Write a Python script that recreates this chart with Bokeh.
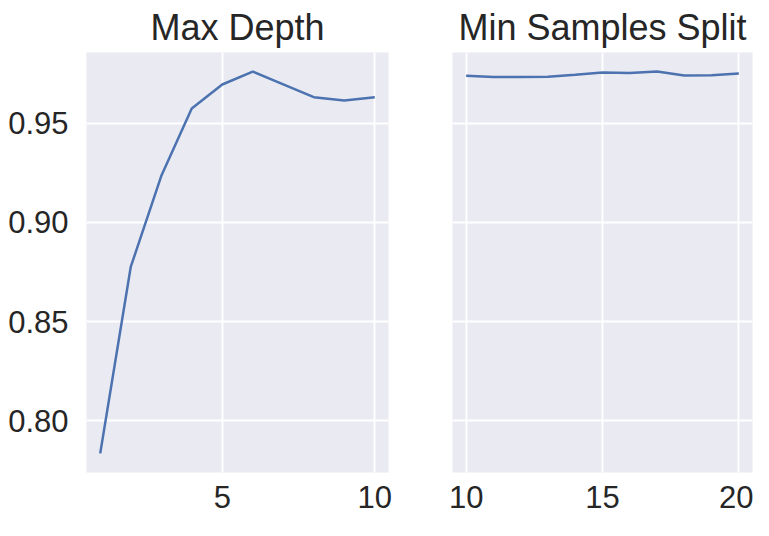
from bokeh.plotting import figure
from bokeh.layouts import row
from bokeh.models import Range1d, FixedTicker
from bokeh.embed import file_html
from bokeh.resources import INLINE

# data
max_depth = [1, 2, 3, 4, 5, 6, 7, 8, 9, 10]
max_depth_score = [0.7836, 0.8775, 0.9233, 0.9573, 0.9694, 0.9759, 0.9695, 0.9630, 0.9613, 0.9630]
min_split = [10, 11, 12, 13, 14, 15, 16, 17, 18, 19, 20]
min_split_score = [0.9738, 0.9732, 0.9732, 0.9733, 0.9743, 0.9754, 0.9752, 0.9759, 0.9739, 0.9740, 0.9749]
y_ticks = [0.80, 0.85, 0.90, 0.95]
x_ticks_left = [5, 10]
x_ticks_right = [10, 15, 20]
titles = ["Max Depth", "Min Samples Split"]

BG = "#EAEAF2"
LINE = "#4C72B0"
TXT = "#262626"
FONT = "Liberation Sans"

def pad(vals, frac=0.05):
    lo, hi = min(vals), max(vals)
    d = (hi - lo) * frac
    return lo - d, hi + d

ylo, yhi = pad(max_depth_score + min_split_score)
yr = Range1d(ylo, yhi)

def make(title, xs, ys, xticks, width, bl, br, show_y):
    xlo, xhi = pad(xs)
    p = figure(width=width, height=520, x_range=Range1d(xlo, xhi), y_range=yr,
               output_backend="svg", toolbar_location=None, title=title,
               min_border_left=bl, min_border_right=br, min_border_top=46,
               min_border_bottom=48)
    p.background_fill_color = BG
    p.border_fill_color = "white"
    p.outline_line_color = None
    p.title.text_font = FONT
    p.title.text_font_size = "36px"
    p.title.text_font_style = "normal"
    p.title.text_color = TXT
    p.title.align = "center"
    p.title.standoff = 9
    for ax in (p.xaxis[0], p.yaxis[0]):
        ax.axis_line_color = None
        ax.major_tick_line_color = None
        ax.minor_tick_line_color = None
        ax.major_tick_out = 0
        ax.major_tick_in = 0
        ax.major_label_text_font = FONT
        ax.major_label_text_font_size = "31px"
        ax.major_label_text_color = TXT
    p.xaxis[0].ticker = FixedTicker(ticks=xticks)
    p.yaxis[0].ticker = FixedTicker(ticks=y_ticks)
    p.yaxis[0].major_label_overrides = {t: f"{t:.2f}" for t in y_ticks}
    p.xaxis[0].major_label_standoff = 13
    p.yaxis[0].major_label_standoff = 18
    if not show_y:
        p.yaxis[0].visible = False
    p.grid.grid_line_color = "white"
    p.grid.grid_line_width = 2
    p.line(xs, ys, line_color=LINE, line_width=2.5)
    return p

p1 = make(titles[0], max_depth, max_depth_score, x_ticks_left, 420, 86, 32, True)
p2 = make(titles[1], min_split, min_split_score, x_ticks_right, 333, 32, 1, False)

layout = row(p1, p2)
open("out.html", "w").write(file_html(layout, INLINE))
